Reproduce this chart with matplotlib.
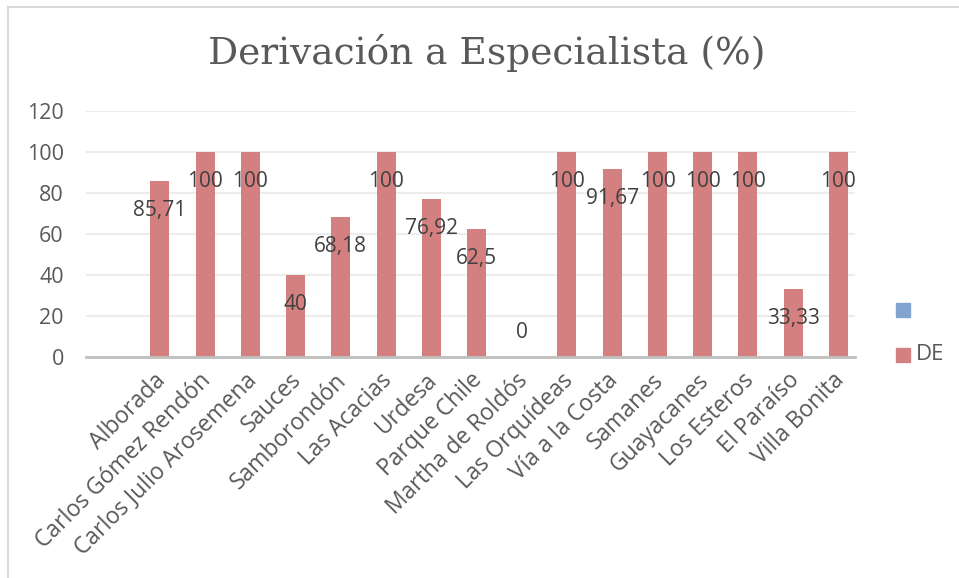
import matplotlib.pyplot as plt
from matplotlib.lines import Line2D
from matplotlib.patches import Rectangle
from matplotlib.transforms import ScaledTranslation

centros = ["", "Alborada", "Carlos Gómez Rendón", "Carlos Julio Arosemena", "Sauces",
           "Samborondón", "Las Acacias", "Urdesa", "Parque Chile", "Martha de Roldós",
           "Las Orquídeas", "Vía a la Costa", "Samanes", "Guayacanes", "Los Esteros",
           "El Paraíso", "Villa Bonita"]
de = [None, 85.71, 100, 100, 40, 68.18, 100, 76.92, 62.5, 0,
      100, 91.67, 100, 100, 100, 33.33, 100]
etiquetas = [None, "85,71", "100", "100", "40", "68,18", "100", "76,92", "62,5", "0",
             "100", "91,67", "100", "100", "100", "33,33", "100"]

gris = "#595959"
rojo = "#d48080"
azul = "#82a4d0"
fuente = "Open Sans"

fig = plt.figure(figsize=(9.59, 5.78), dpi=100)
ax = fig.add_axes([86/959, 1-357.3/578, (855-86)/959, (357.3-111)/578])

x = list(range(len(centros)))
xb = [i + 0.133 for i, v in zip(x, de) if v is not None]
vb = [v for v in de if v is not None]
lb = [l for l in etiquetas if l is not None]
ax.bar(xb, vb, width=0.42, color=rojo, zorder=2)

for xi, v, l in zip(xb, vb, lb):
    off = -21 if v > 0 else 18
    ax.annotate(l, (xi, v), xytext=(0, off), textcoords="offset points",
                ha="center", va="center", fontsize=15, color="#404040",
                family=fuente, zorder=3)

ax.set_xlim(-0.5, len(centros) - 0.5)
ax.set_ylim(0, 120)
ax.set_yticks(range(0, 121, 20))
ax.grid(axis="y", color="#ececec", linewidth=1.5, zorder=0)
ax.set_xticks(x)
ax.set_xticklabels(centros, rotation=45, ha="right", rotation_mode="anchor",
                   fontsize=16.5, color=gris, family=fuente)
desplaza = ScaledTranslation(-5/100, 0, fig.dpi_scale_trans)
for t in ax.get_xticklabels():
    t.set_transform(t.get_transform() + desplaza)
for t in ax.get_yticklabels():
    t.set_fontsize(15.5)
    t.set_color(gris)
    t.set_family(fuente)
ax.tick_params(length=0)
ax.tick_params(axis="y", pad=16)
ax.tick_params(axis="x", pad=8)
for s in ["top", "right", "left"]:
    ax.spines[s].set_visible(False)
ax.spines["bottom"].set_color("#c0c0c0")
ax.spines["bottom"].set_linewidth(2)
ax.spines["bottom"].set_zorder(3)

fig.text(487/959, 1-53/578, "Derivación a Especialista (%)", ha="center", va="center",
         fontsize=27, color=gris, family="DejaVu Serif")

# leyenda
fig.patches.append(Rectangle((896/959, 1-317/578), 14/959, 14/578,
                             transform=fig.transFigure, color=azul))
fig.patches.append(Rectangle((896/959, 1-362/578), 14/959, 14/578,
                             transform=fig.transFigure, color=rojo))
fig.text(916/959, 1-355/578, "DE", ha="left", va="center", fontsize=16,
         color=gris, family=fuente)

# borde del gráfico
fig.add_artist(Line2D([8/959, 8/959], [0, 1-7/578], transform=fig.transFigure,
                      color="#d9d9d9", linewidth=1.5))
fig.add_artist(Line2D([8/959, 1], [1-7/578, 1-7/578], transform=fig.transFigure,
                      color="#d9d9d9", linewidth=1.5))

fig.savefig("out.png", dpi=100)
